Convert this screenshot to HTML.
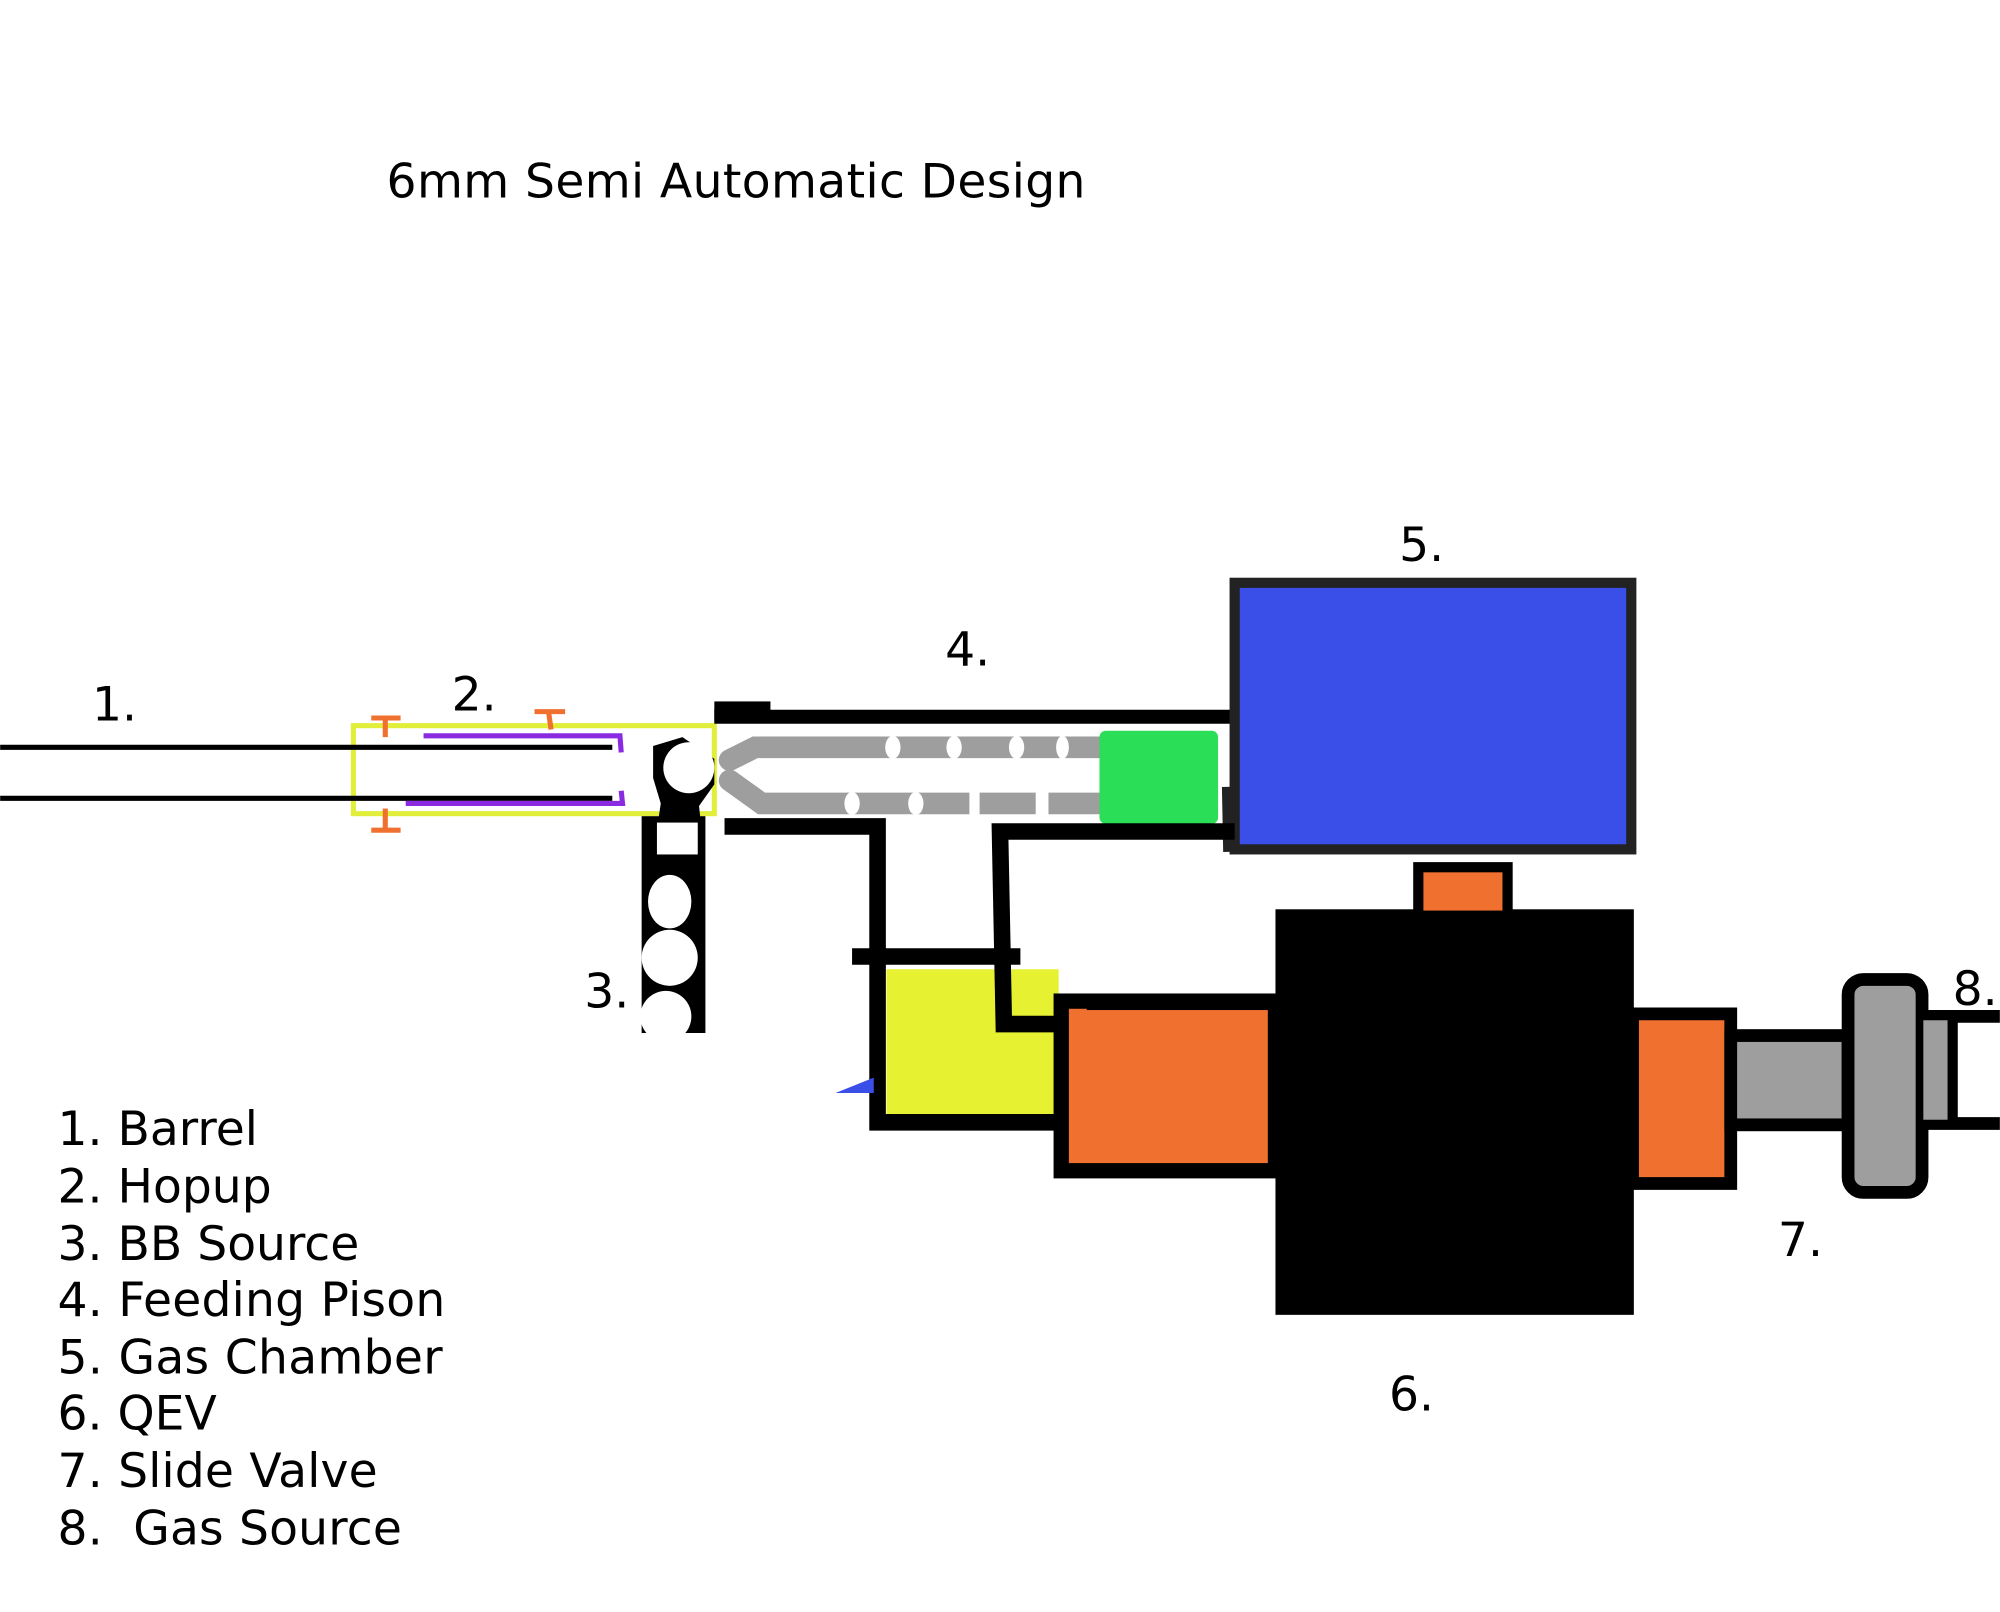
<!DOCTYPE html>
<html><head><style>body{margin:0;background:#fff}svg{display:block}</style></head>
<body>
<svg width="2000" height="1612" viewBox="0 0 1568 1264" xmlns="http://www.w3.org/2000/svg" font-family="DejaVu Sans, Liberation Sans, sans-serif">
<rect width="1568" height="1264" fill="#fff"/>
<text x="303" y="155" font-size="37" textLength="548">6mm Semi Automatic Design</text>
<!-- hopup yellow -->
<rect x="277" y="569" width="283" height="69" fill="none" stroke="#e2ef3a" stroke-width="4"/>
<!-- barrel -->
<line x1="0" y1="586" x2="480" y2="586" stroke="#000" stroke-width="4"/>
<line x1="0" y1="626" x2="480" y2="626" stroke="#000" stroke-width="4"/>
<!-- purple -->
<polyline points="332,577 486,577 487,590" fill="none" stroke="#8a2be2" stroke-width="4"/>
<polyline points="318,630 488,630 487,620" fill="none" stroke="#8a2be2" stroke-width="4"/>
<!-- orange Ts -->
<g stroke="#f07030" stroke-width="4" fill="none">
<line x1="291" y1="563" x2="314" y2="563"/><line x1="302" y1="563" x2="302" y2="578"/>
<line x1="419" y1="558" x2="443" y2="558"/><line x1="430" y1="558" x2="432" y2="572"/>
<line x1="291" y1="651" x2="314" y2="651"/><line x1="302" y1="634" x2="302" y2="651"/>
</g>
<!-- BB source -->
<rect x="503" y="640" width="50" height="170" fill="#000"/>
<path d="M512,585 L535,578 L560,595 L560,615 L548,632 L550,650 L515,650 L518,630 L512,610Z" fill="#000"/>
<circle cx="540" cy="602" r="20" fill="#fff"/>
<rect x="515" y="645" width="32" height="25" fill="#fff"/>
<ellipse cx="525" cy="707" rx="17" ry="21" fill="#fff"/>
<ellipse cx="525" cy="751" rx="22" ry="22" fill="#fff"/>
<ellipse cx="522" cy="797" rx="20" ry="20" fill="#fff"/>
<!-- feeding piston -->
<rect x="560" y="550" width="44" height="16" fill="#000"/>
<line x1="560" y1="562" x2="970" y2="562" stroke="#000" stroke-width="11"/>
<polyline points="572,596 592,586 862,586" fill="none" stroke="#9e9e9e" stroke-width="17" stroke-linecap="round"/>
<polyline points="572,612 597,630 862,630" fill="none" stroke="#9e9e9e" stroke-width="17" stroke-linecap="round"/>
<g fill="#fff">
<ellipse cx="700" cy="586" rx="6" ry="9"/><ellipse cx="748" cy="586" rx="6" ry="9"/><ellipse cx="797" cy="586" rx="6" ry="9"/><ellipse cx="833" cy="586" rx="5" ry="9"/>
<ellipse cx="668" cy="630" rx="6" ry="9"/><ellipse cx="718" cy="630" rx="6" ry="9"/><rect x="760" y="621" width="8" height="18"/><rect x="812" y="621" width="10" height="18"/>
</g>
<rect x="862" y="573" width="93" height="73" rx="5" fill="#2ade57"/>
<!-- gas chamber -->
<rect x="968" y="457" width="311" height="209" fill="#3a4fe8" stroke="#222" stroke-width="8"/>
<line x1="962" y1="617" x2="963" y2="668" stroke="#222" stroke-width="8"/>
<!-- piping -->
<rect x="695" y="760" width="135" height="117" fill="#e6f231"/>
<polyline points="568,648 688,648 688,880 832,880" fill="none" stroke="#000" stroke-width="13"/>
<line x1="668" y1="750" x2="800" y2="750" stroke="#000" stroke-width="13"/>
<polyline points="968,652 784,652 787,803 852,803" fill="none" stroke="#000" stroke-width="13"/>
<polygon points="655,857 685,845 685,857" fill="#3a4fe8"/>
<!-- QEV -->
<rect x="832" y="785" width="168" height="133" fill="#f07030" stroke="#000" stroke-width="12"/>
<rect x="852" y="780" width="148" height="12" fill="#000"/>
<rect x="1000" y="713" width="281" height="318" fill="#000"/>
<rect x="1112" y="680" width="70" height="38" fill="#f07030" stroke="#000" stroke-width="8"/>
<rect x="1280" y="795" width="77" height="133" fill="#f07030" stroke="#000" stroke-width="10"/>
<rect x="1357" y="812" width="92" height="70" fill="#9e9e9e" stroke="#000" stroke-width="10"/>
<rect x="1449" y="768" width="58" height="167" rx="12" fill="#9e9e9e" stroke="#000" stroke-width="10"/>
<line x1="1508" y1="797" x2="1568" y2="797" stroke="#000" stroke-width="10"/>
<line x1="1508" y1="881" x2="1568" y2="881" stroke="#000" stroke-width="10"/>
<rect x="1508" y="800" width="20" height="78" fill="#9e9e9e"/>
<line x1="1531" y1="797" x2="1531" y2="881" stroke="#000" stroke-width="8"/>
<!-- labels -->
<g font-size="37">
<text x="72" y="565">1.</text>
<text x="354" y="557">2.</text>
<text x="458" y="790">3.</text>
<text x="741" y="522">4.</text>
<text x="1097" y="440">5.</text>
<text x="1089" y="1106">6.</text>
<text x="1394" y="985">7.</text>
<text x="1531" y="788">8.</text>
<text x="45" y="898">1. Barrel</text>
<text x="45" y="943">2. Hopup</text>
<text x="45" y="988">3. BB Source</text>
<text x="45" y="1032" textLength="304">4. Feeding Pison</text>
<text x="45" y="1077" textLength="302">5. Gas Chamber</text>
<text x="45" y="1121">6. QEV</text>
<text x="45" y="1166" textLength="251">7. Slide Valve</text>
<text x="45" y="1211" xml:space="preserve" textLength="270">8.  Gas Source</text>
</g>
</svg>
</body></html>
